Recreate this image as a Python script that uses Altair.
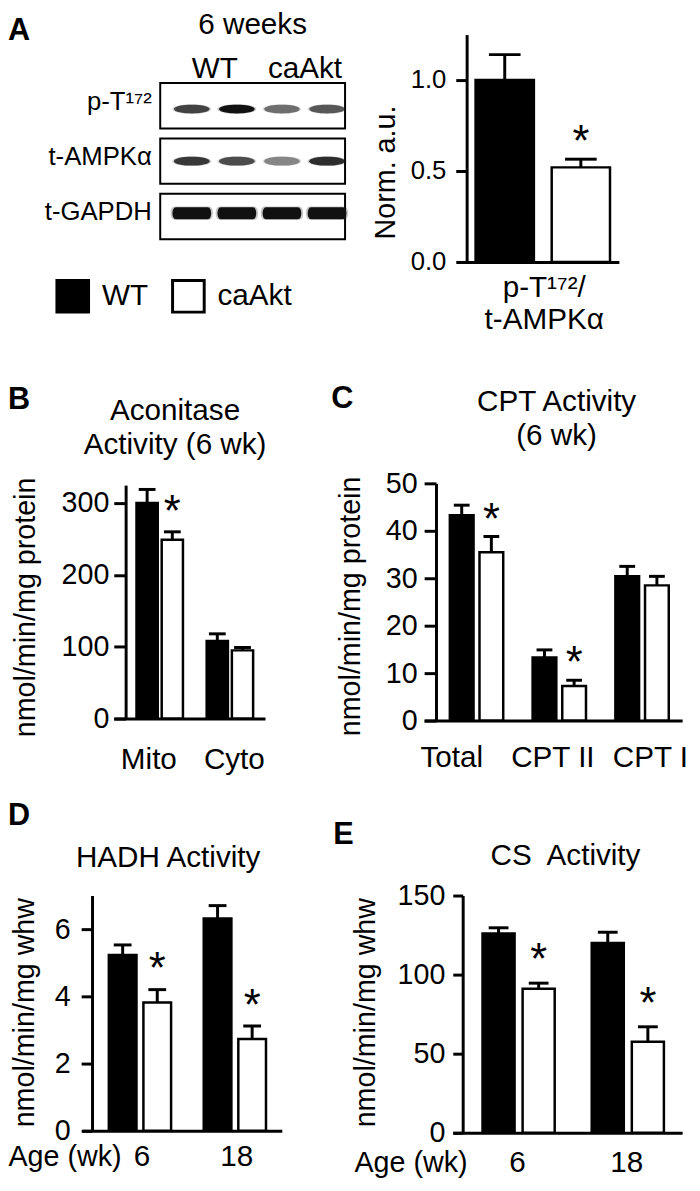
import altair as alt
import pandas as pd

FONT = "Liberation Sans"
W, H = 692, 1183

groups = ["WT", "caAkt"]

# ---------------- Panel A: western blot (relative band intensities) ----------------
blot_rows = ["p-T¹⁷²", "t-AMPKα", "t-GAPDH"]
blot_lanes = [1, 2, 3, 4]
blot_pT172 = [0.75, 1.00, 0.55, 0.65]
blot_tAMPK = [0.80, 0.70, 0.45, 0.85]
blot_GAPDH = [1.00, 1.00, 1.00, 1.00]

# ---------------- Panel A: quantification ----------------
a_cats = ["p-T172/t-AMPKα"]
a_wt = [1.00]
a_wt_err = [0.14]
a_ca = [0.52]
a_ca_err = [0.045]
a_sig = [True]

# ---------------- Panel B: Aconitase ----------------
b_cats = ["Mito", "Cyto"]
b_wt = [300, 108]
b_wt_err = [19, 10]
b_ca = [249, 95]
b_ca_err = [11, 4]
b_sig = [True, False]

# ---------------- Panel C: CPT ----------------
c_cats = ["Total", "CPT II", "CPT I"]
c_wt = [43.3, 13.3, 30.4]
c_wt_err = [2.1, 1.6, 2.1]
c_ca = [35.5, 7.3, 28.5]
c_ca_err = [3.3, 1.2, 1.9]
c_sig = [True, True, False]

# ---------------- Panel D: HADH ----------------
d_cats = ["6", "18"]
d_wt = [5.23, 6.32]
d_wt_err = [0.30, 0.38]
d_ca = [3.82, 2.73]
d_ca_err = [0.38, 0.39]
d_sig = [True, True]

# ---------------- Panel E: CS ----------------
e_cats = ["6", "18"]
e_wt = [126, 120]
e_wt_err = [3.6, 6.8]
e_ca = [91, 57.5]
e_ca_err = [3.6, 9.5]
e_sig = [True, True]


def make_df(cats, wt, wt_err, ca, ca_err, sig):
    rows = []
    for i, c in enumerate(cats):
        rows.append({"cat": c, "group": "WT", "mean": wt[i], "top": wt[i] + wt_err[i], "sig": False})
        rows.append({"cat": c, "group": "caAkt", "mean": ca[i], "top": ca[i] + ca_err[i], "sig": bool(sig[i])})
    return pd.DataFrame(rows)


def y_axis(ax_x, tick, values, fmt, lsize, lpad, title, tx, ty):
    return alt.Axis(orient="left", offset=-ax_x, values=values, format=fmt, tickSize=tick,
                    tickWidth=3, domainWidth=3, labelFontSize=lsize, labelPadding=lpad,
                    labelOverlap=False, title=title, titleX=tx, titleY=ty, titleAngle=270,
                    titleAlign="center", titleBaseline="middle", titleFontSize=29,
                    titleFontWeight="normal", grid=False)


def x_axis(ax_y, lpad, **kw):
    base = dict(orient="bottom", offset=ax_y - H, domainWidth=3, ticks=False, labelFontSize=30,
                labelPadding=lpad, labelBaseline="alphabetic", labelAngle=0, grid=False,
                labelFlush=False, titleFontSize=30, titleFontWeight="normal", titleAngle=0)
    base.update(kw)
    return alt.Axis(**base)


def bar_panel(df, cats, xr, pin, pout, align, pin2, ydom, yr, yax, xax, cap, star_dy, legend=None):
    n = len(cats)
    step_x = (xr[1] - xr[0]) / (n - pin + 2 * pout)
    group_w = step_x * (1 - pin)
    step_xo = group_w / (2 - pin2)
    star_dx = step_xo / 2.0  # centre of the caAkt bar relative to the group centre

    def xs():
        return alt.Scale(type="band", domain=cats, range=xr, paddingInner=pin, paddingOuter=pout, align=align)

    def xos():
        return alt.XOffset("group:N", scale=alt.Scale(type="band", domain=groups, paddingInner=pin2, paddingOuter=0))

    def ys():
        return alt.Scale(domain=ydom, range=yr, nice=False, zero=True)

    base = alt.Chart(df)
    bars = base.mark_bar(stroke="black", strokeWidth=2.5).encode(
        x=alt.X("cat:N", sort=cats, scale=xs(), axis=xax), xOffset=xos(),
        y=alt.Y("mean:Q", scale=ys(), axis=yax),
        fill=alt.Fill("group:N", scale=alt.Scale(domain=groups, range=["black", "white"]), legend=legend),
    )
    whisk = base.mark_rule(color="black", strokeWidth=3).encode(
        x=alt.X("cat:N", sort=cats, scale=xs(), axis=None), xOffset=xos(),
        y=alt.Y("mean:Q", scale=ys(), axis=None), y2="top:Q")
    caps = base.mark_tick(color="black", thickness=3, size=cap, opacity=1).encode(
        x=alt.X("cat:N", sort=cats, scale=xs(), axis=None), xOffset=xos(),
        y=alt.Y("top:Q", scale=ys(), axis=None))
    stars = base.transform_filter("datum.sig").mark_text(
        text="*", fontSize=44, font=FONT, dx=star_dx, dy=star_dy, baseline="alphabetic",
        align="center", color="black").encode(
        x=alt.X("cat:N", sort=cats, scale=xs(), axis=None),
        y=alt.Y("top:Q", scale=ys(), axis=None))
    return [bars, whisk, caps, stars]


# ---------------- blot layers ----------------
blot_df = pd.DataFrame([
    {"row": r, "lane": l, "intensity": v}
    for r, vals in zip(blot_rows, [blot_pT172, blot_tAMPK, blot_GAPDH])
    for l, v in zip(blot_lanes, vals)
])
thin = "M-1,0 C-1,-0.33 1,-0.33 1,0 C1,0.33 -1,0.33 -1,0 Z"
thick = "M-0.9,-0.34 L0.9,-0.34 C1.15,-0.34 1.15,0.34 0.9,0.34 L-0.9,0.34 C-1.15,0.34 -1.15,-0.34 -0.9,-0.34 Z"


def bxs():
    return alt.Scale(domain=[0.3, 4.4], range=[154, 341], nice=False, zero=False)


def bys():
    return alt.Scale(domain=blot_rows, range=[69, 227], paddingInner=0.18, paddingOuter=0)


boxes = alt.Chart(blot_df).transform_aggregate(
    lo="min(lane)", hi="max(lane)", groupby=["row"]
).transform_calculate(lo="datum.lo - 0.7", hi="datum.hi + 0.4").mark_rect(
    fill="white", stroke="black", strokeWidth=2
).encode(
    x=alt.X("lo:Q", scale=bxs(), axis=alt.Axis(
        orient="top", offset=-69, values=[1.5, 3.5], labelExpr="datum.value < 2.5 ? 'WT' : 'caAkt'",
        domain=False, ticks=False, grid=False, labelFontSize=30, labelPadding=6,
        labelBaseline="alphabetic", labelFlush=False, labelAngle=0,
        title="6 weeks", titleX=247, titleY=-50, titleAngle=0, titleAlign="center",
        titleBaseline="alphabetic", titleFontSize=30, titleFontWeight="normal")),
    x2="hi:Q",
    y=alt.Y("row:N", sort=blot_rows, scale=bys(), axis=alt.Axis(
        orient="left", offset=-154, domain=False, ticks=False, grid=False, labelPadding=9,
        labelFontSize=26, labelOffset=-4, title=None)),
)
band_shape = alt.Shape("row:N", sort=blot_rows,
                       scale=alt.Scale(domain=blot_rows, range=[thin, thin, thick]), legend=None)
# soft halo around each band (same band data, faint and slightly larger)
halo = alt.Chart(blot_df).mark_point(filled=True, color="#333333", size=1550, strokeWidth=0, opacity=1).encode(
    x=alt.X("lane:Q", scale=bxs(), axis=None),
    y=alt.Y("row:N", sort=blot_rows, scale=bys(), axis=None),
    fillOpacity=alt.FillOpacity("intensity:Q", scale=alt.Scale(domain=[0, 1], range=[0, 0.28]), legend=None),
    shape=band_shape,
)
bands = alt.Chart(blot_df).mark_point(filled=True, color="#111111", size=1296, strokeWidth=0).encode(
    x=alt.X("lane:Q", scale=bxs(), axis=None),
    y=alt.Y("row:N", sort=blot_rows, scale=bys(), axis=None),
    opacity=alt.Opacity("intensity:Q", scale=alt.Scale(domain=[0, 1], range=[0, 1]), legend=None),
    shape=band_shape,
)

# ---------------- bar panels ----------------
legend_a = alt.Legend(orient="none", legendX=48, legendY=267, direction="horizontal", title=None,
                      symbolType="square", symbolSize=1024, symbolStrokeColor="black",
                      symbolStrokeWidth=3, labelFontSize=30, labelFont=FONT, labelOffset=12,
                      columnPadding=18, padding=0, labelColor="black")

panel_a = bar_panel(
    make_df(a_cats, a_wt, a_wt_err, a_ca, a_ca_err, a_sig), a_cats,
    xr=[454, 618], pin=0, pout=0.103, align=0.68, pin2=0.234,
    ydom=[0, 1.25], yr=[250, 20],
    yax=y_axis(464, 11, [0, 0.5, 1.0], ".1f", 26, 10, "Norm. a.u.", -82, 159),
    xax=x_axis(250, 10, labels=False, title=["p-T¹⁷²/", "t-AMPKα"], titleX=542, titleY=35,
               titleAlign="center", titleBaseline="alphabetic", titleLineHeight=32),
    cap=32, star_dy=-3, legend=legend_a)

panel_b = bar_panel(
    make_df(b_cats, b_wt, b_wt_err, b_ca, b_ca_err, b_sig), b_cats,
    xr=[107, 260], pin=0.338, pout=0.2465, align=0.657, pin2=0.157,
    ydom=[0, 325], yr=[712, 475.8],
    yax=y_axis(119, 12, [0, 100, 200, 300], "d", 29, 5, "nmol/min/mg protein", -101, 599),
    xax=x_axis(712, 50, title=None,
               labelOffset={"condition": {"test": "datum.value === 'Mito'", "value": -11}, "value": 4.5}),
    cap=17, star_dy=-5.5)

panel_c = bar_panel(
    make_df(c_cats, c_wt, c_wt_err, c_ca, c_ca_err, c_sig), c_cats,
    xr=[421, 682], pin=0.355, pout=0.236, align=0.658, pin2=0.2,
    ydom=[0, 50], yr=[714, 474],
    yax=y_axis(433, 12, [0, 10, 20, 30, 40, 50], "d", 29, 7, "nmol/min/mg protein", -86, 598),
    xax=x_axis(714, 46, title=None,
               labelOffset={"condition": [{"test": "datum.value === 'Total'", "value": -25},
                                          {"test": "datum.value === 'CPT I'", "value": 8.5}],
                            "value": -6.5}),
    cap=16, star_dy=-3)

panel_d = bar_panel(
    make_df(d_cats, d_wt, d_wt_err, d_ca, d_ca_err, d_sig), d_cats,
    xr=[75, 277], pin=0.344, pout=0.224, align=0.628, pin2=0.2,
    ydom=[0, 7], yr=[1129, 891],
    yax=y_axis(85, 11, [0, 2, 4, 6], "d", 29, 11, "nmol/min/mg whw", -68, 1009),
    xax=x_axis(1129, 35, title="Age (wk)", titleX=0, titleY=35, titleAlign="left",
               titleBaseline="alphabetic", titleFontSize=29, labelOffset=2),
    cap=18, star_dy=-6.5)

panel_e = bar_panel(
    make_df(e_cats, e_wt, e_wt_err, e_ca, e_ca_err, e_sig), e_cats,
    xr=[450, 682], pin=0.339, pout=0.2195, align=0.62, pin2=0.2,
    ydom=[0, 150], yr=[1131, 891],
    yax=y_axis(460, 10, [0, 50, 100, 150], "d", 29, 8, "nmol/min/mg whw", -98, 1009),
    xax=x_axis(1131, 39, title="Age (wk)", titleX=350, titleY=39, titleAlign="left",
               titleBaseline="alphabetic", titleFontSize=29, labelOffset=-1),
    cap=20, star_dy=-9)

# ---------------- annotations (panel letters, panel titles) ----------------
dummy = pd.DataFrame({"k": [0]})


def note(text, x, y, size=30, weight="normal", align="left", line_height=None):
    kw = dict(text=text, fontSize=size, fontWeight=weight, font=FONT, align=align,
              baseline="alphabetic", color="black")
    if line_height is not None:
        kw["lineHeight"] = line_height
    return alt.Chart(dummy).mark_text(**kw).encode(x=alt.value(x), y=alt.value(y))


notes = [
    note("A", 0, 25, 31, "bold"),
    note("B", 0, 399, 31, "bold"),
    note("C", 327, 398, 31, "bold"),
    note("D", 0, 820, 31, "bold"),
    note("E", 329, 839, 31, "bold"),
    note(["Aconitase", "Activity (6 wk)"], 169, 410, 30, align="center", line_height=34),
    note(["CPT Activity", "(6 wk)"], 555, 401, 30, align="center", line_height=34),
    note("HADH Activity", 162, 862, 30, align="center"),
    note("CS\u00a0 Activity", 564, 860, 30, align="center"),
]

layers = [boxes, halo, bands] + panel_a + panel_b + panel_c + panel_d + panel_e + notes

chart = alt.layer(*layers).resolve_scale(
    x="independent", y="independent", xOffset="independent"
).properties(
    width=W, height=H, autosize=alt.AutoSizeParams(type="none"), padding=0
).configure_view(stroke=None).configure_axis(
    grid=False, labelFont=FONT, titleFont=FONT, labelColor="black", titleColor="black",
    domainColor="black", tickColor="black"
)

chart.save("out.html", embed_options={"renderer": "svg", "actions": False})
